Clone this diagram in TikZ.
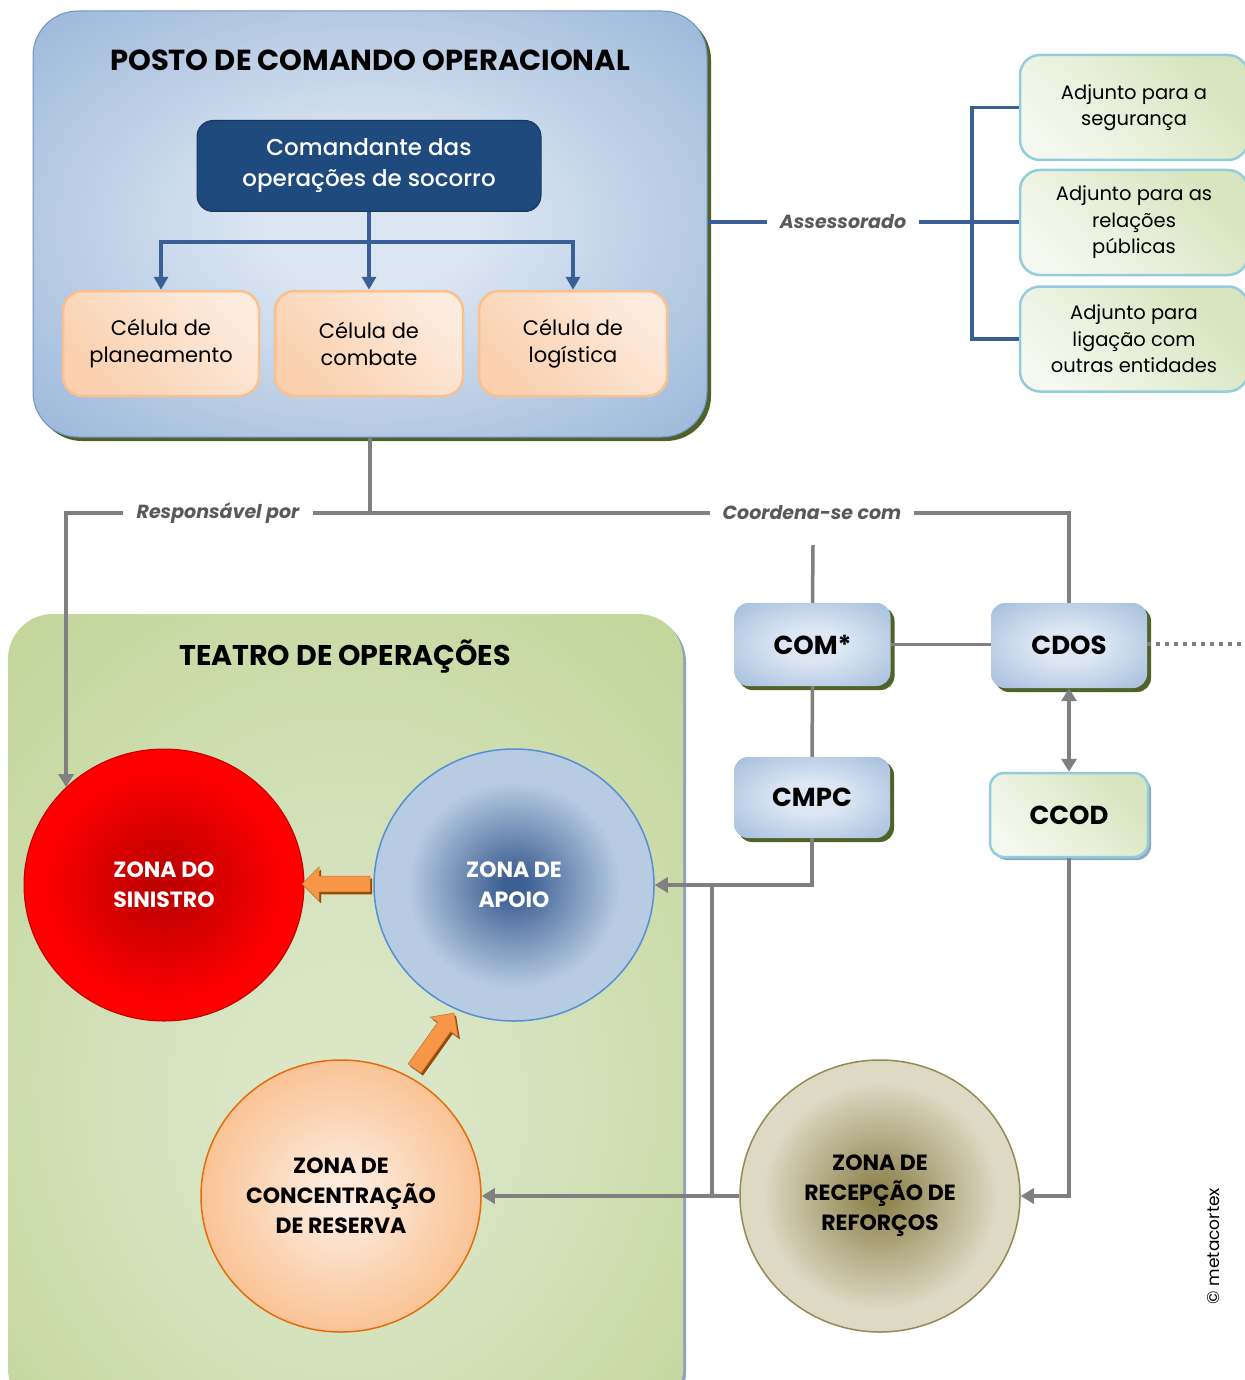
\documentclass[tikz,border=0pt]{standalone}
\usepackage{fontspec}
\setmainfont{Poppins}
\newfontfamily\medfont{Poppins Medium}
\usetikzlibrary{arrows.meta,shapes.geometric,shapes.arrows,shadows}

\definecolor{pcoIn}{HTML}{DCE6F2}
\definecolor{pcoOut}{HTML}{95B3D7}
\definecolor{pcoLine}{HTML}{6F93C4}
\definecolor{olive}{HTML}{4F6228}
\definecolor{navyA}{HTML}{1F4A7E}
\definecolor{navyB}{HTML}{223E62}
\definecolor{navyLine}{HTML}{17375E}
\definecolor{linkblue}{HTML}{3A5F96}
\definecolor{peachA}{HTML}{FAD0AE}
\definecolor{peachB}{HTML}{FDEBDD}
\definecolor{peachLine}{HTML}{FAC090}
\definecolor{adjA}{HTML}{F5F8EF}
\definecolor{adjB}{HTML}{D7E4BD}
\definecolor{cyanLine}{HTML}{93CDDD}
\definecolor{glinecol}{HTML}{808080}
\definecolor{lblgray}{HTML}{595959}
\definecolor{teaIn}{HTML}{DAE6C6}
\definecolor{teaOut}{HTML}{C3D69B}
\definecolor{teaShadow}{HTML}{8FA3BE}
\definecolor{boxIn}{HTML}{DDE7F3}
\definecolor{boxOut}{HTML}{95B3D7}
\definecolor{sinIn}{HTML}{C00000}
\definecolor{sinOut}{HTML}{FF0000}
\definecolor{sinLine}{HTML}{C00000}
\definecolor{apoIn}{HTML}{3D5F92}
\definecolor{apoOut}{HTML}{B7CBE3}
\definecolor{apoLine}{HTML}{558ED5}
\definecolor{resIn}{HTML}{FDEADA}
\definecolor{resOut}{HTML}{F9BF8F}
\definecolor{resLine}{HTML}{E46C0A}
\definecolor{recIn}{HTML}{8F8550}
\definecolor{recOut}{HTML}{DDD9C3}
\definecolor{recLine}{HTML}{948A54}
\definecolor{orangeA}{HTML}{F79646}
\definecolor{orangeD}{HTML}{984807}
\definecolor{ccodShadow}{HTML}{8EA9BF}

\pgfdeclareradialshading{pcoShade}{\pgfpoint{0bp}{0bp}}{color(0bp)=(pcoIn); color(8bp)=(pcoIn); color(38bp)=(pcoOut); color(50bp)=(pcoOut)}
\pgfdeclareradialshading{teaShade}{\pgfpoint{0bp}{-8bp}}{color(0bp)=(teaIn); color(8bp)=(teaIn); color(36bp)=(teaOut); color(50bp)=(teaOut)}
\pgfdeclareradialshading{boxShade}{\pgfpoint{0bp}{0bp}}{color(0bp)=(boxIn); color(10bp)=(boxIn); color(42bp)=(boxOut); color(50bp)=(boxOut)}
\pgfdeclareradialshading{cmdShade}{\pgfpoint{0bp}{0bp}}{color(0bp)=(navyA); color(30bp)=(navyA); color(50bp)=(navyB)}
\pgfdeclareradialshading{sinShade}{\pgfpoint{0bp}{0bp}}{color(0bp)=(sinIn); color(3bp)=(sinIn); color(22bp)=(sinOut); color(50bp)=(sinOut)}
\pgfdeclareradialshading{apoShade}{\pgfpoint{0bp}{0bp}}{color(0bp)=(apoIn); color(2bp)=(apoIn); color(19bp)=(apoOut); color(50bp)=(apoOut)}
\pgfdeclareradialshading{resShade}{\pgfpoint{0bp}{0bp}}{color(0bp)=(resIn); color(4bp)=(resIn); color(27bp)=(resOut); color(50bp)=(resOut)}
\pgfdeclareradialshading{recShade}{\pgfpoint{0bp}{0bp}}{color(0bp)=(recIn); color(2bp)=(recIn); color(21bp)=(recOut); color(50bp)=(recOut)}

\begin{document}
\begin{tikzpicture}[x=1pt,y=-1pt,
  pcobox/.style={rounded corners=45pt, draw=pcoLine, line width=1pt, shading=pcoShade,
    general shadow={fill=olive, shadow xshift=4pt, shadow yshift=-4pt},
    minimum width=674pt, minimum height=426pt, inner sep=0pt},
  teabox/.style={rounded corners=45pt, shading=teaShade,
    general shadow={fill=teaShadow, shadow xshift=3pt, shadow yshift=-3pt},
    minimum width=675pt, minimum height=800pt, inner sep=0pt},
  title/.style={font=\fontsize{29}{33}\selectfont\bfseries, text=black},
  cmdbox/.style={rounded corners=16pt, shading=cmdShade, draw=navyLine, line width=1pt,
    minimum width=344pt, minimum height=91pt, align=center, text=white,
    font=\fontsize{23}{31}\selectfont\medfont},
  cell/.style={rounded corners=20pt, draw=peachLine, line width=2.5pt,
    top color=peachB, bottom color=peachA, shading angle=-45,
    minimum height=105pt, align=center, font=\fontsize{21}{27}\selectfont},
  adj/.style={rounded corners=20pt, draw=cyanLine, line width=2.5pt,
    top color=adjB, bottom color=adjA, shading angle=-45,
    minimum width=228pt, minimum height=105pt, align=center, font=\fontsize{19.5}{26.5}\selectfont},
  cbox/.style={rounded corners=14pt, shading=boxShade,
    general shadow={fill=olive, shadow xshift=4pt, shadow yshift=-4pt},
    minimum width=156pt, minimum height=83pt, font=\fontsize{26}{30}\selectfont\bfseries},
  gbox/.style={rounded corners=14pt, draw=cyanLine, line width=2.5pt,
    top color=adjB, bottom color=adjA, shading angle=-45,
    general shadow={fill=ccodShadow, shadow xshift=3pt, shadow yshift=-3pt},
    minimum width=158pt, minimum height=84pt, font=\fontsize{26}{30}\selectfont\bfseries},
  zone/.style={ellipse, minimum width=280pt, minimum height=272pt, inner sep=0pt,
    align=center, font=\fontsize{22}{30}\selectfont\bfseries},
  lbl/.style={font=\fontsize{19}{23}\selectfont\bfseries\itshape, text=lblgray, inner xsep=13pt, inner ysep=2pt},
  bline/.style={draw=linkblue, line width=3.5pt},
  barrow/.style={bline, -{Triangle[length=13pt,width=14pt]}},
  gline/.style={draw=glinecol, line width=3.5pt},
  garrow/.style={gline, -{Triangle[length=13pt,width=15pt]}},
  darrow/.style={gline, {Triangle[length=13pt,width=15pt]}-{Triangle[length=13pt,width=15pt]}},
  blockarrow/.style={single arrow, fill=orangeA, draw=orangeA!80!black, line width=0.6pt,
    minimum height=68pt, minimum width=34pt, single arrow head extend=9pt,
    single arrow head indent=0pt, inner sep=7.5pt,
    general shadow={fill=orangeD, shadow xshift=2pt, shadow yshift=-2.5pt}}
]
\useasboundingbox (0,0) rectangle (1244,1380);

% ---------------- Posto de comando ----------------
\node[pcobox] (pco) at (370,224) {};
\node[title] (pcotitle) at (370,60) {POSTO DE COMANDO OPERACIONAL};
\node[cmdbox] (cmd) at (369,166) {Comandante das\\operações de socorro};
\node[cell, minimum width=196pt] (cel1) at (161,343.5) {Célula de\\planeamento};
\node[cell, minimum width=188pt] (cel2) at (369,343.5) {Célula de\\combate};
\node[cell, minimum width=188pt] (cel3) at (573,343.5) {Célula de\\logística};
\coordinate (split) at (369,242);
\draw[barrow] (cmd.south) -- (cel2.north);
\draw[barrow] (split) -| (cel1.north);
\draw[barrow] (split) -| (cel3.north);

% ---------------- Adjuntos ----------------
\node[adj] (adj1) at (1134,107.5) {Adjunto para a\\segurança};
\node[adj] (adj2) at (1134,222.5) {Adjunto para as\\relações\\públicas};
\node[adj] (adj3) at (1134,339) {Adjunto para\\ligação com\\outras entidades};
\node[lbl] (ass) at (843,222) {Assessorado};
\coordinate (br) at (972,222);
\draw[bline] (pco.east |- ass) -- (ass.west);
\draw[bline] (ass.east) -- (ass.east -| adj2.west);
\draw[bline] (adj1.west) -| (br) |- (adj3.west);

% ---------------- Teatro de operações ----------------
\node[teabox] (tea) at (345.5,1014) {};
\node[title, font=\fontsize{28.5}{33}\selectfont\bfseries] (teatitle) at (345,657) {TEATRO DE OPERAÇÕES};

\node[zone, shading=sinShade, draw=sinLine, line width=1pt, text=white] (sin) at (164,885) {ZONA DO\\SINISTRO};
\node[zone, shading=apoShade, draw=apoLine, line width=1.5pt, text=white] (apo) at (514,885) {ZONA DE\\APOIO};
\node[zone, shading=resShade, draw=resLine, line width=1.5pt, text=black] (res) at (341,1196) {ZONA DE\\CONCENTRAÇÃO\\DE RESERVA};
\node[zone, shading=recShade, draw=recLine, line width=1.5pt, text=black] (rec) at (880,1196) {ZONA DE\\RECEPÇÃO DE\\REFORÇOS};

\node[blockarrow, shape border rotate=180] (oarr1) at (340,884) {};
\node[blockarrow, rotate=54.5] (oarr2) at (432,1044) {};

% ---------------- Coordination ----------------
\node[cbox] (com) at (812.5,644.5) {COM*};
\node[cbox, minimum height=85pt] (cdos) at (1069,645.5) {CDOS};
\node[cbox, minimum height=81pt] (cmpc) at (812,797.5) {CMPC};
\node[gbox] (ccod) at (1069,815) {CCOD};

\node[lbl] (resp) at (218,513) {Responsável por};
\node[lbl] (coord) at (812,513) {Coordena-se com};
\coordinate (comtop) at (813,545);
\coordinate (dotend) at (1244,644);
\coordinate (j1) at (712,885);
\coordinate (j2) at (712,1196);

\draw[gline] (pco.south) -- (pco.south |- resp);
\draw[gline] (resp.east) -- (coord.west);
\draw[garrow] (resp.west) -| (sin.135);
\draw[gline] (coord.east) -| (cdos.north);
\draw[gline] (comtop) -- (com.north);
\draw[gline] (com.east) -- (com.east -| cdos.west);
\draw[gline, dash pattern=on 4pt off 5pt, line width=4pt] (cdos.east |- dotend) -- (dotend);
\draw[gline] (com.south) -- (cmpc.north);
\draw[darrow] (cdos.south) -- (ccod.north);
\draw[garrow] (cmpc.south) |- (apo.east);
\draw[garrow] (ccod.south) |- (rec.east);
\draw[garrow] (rec.west) -- (res.east);
\draw[gline] (j1) -- (j2);

\node[rotate=90, font=\fontsize{17}{20}\selectfont] (copy) at (1214,1246) {© metacortex};
\end{tikzpicture}
\end{document}
